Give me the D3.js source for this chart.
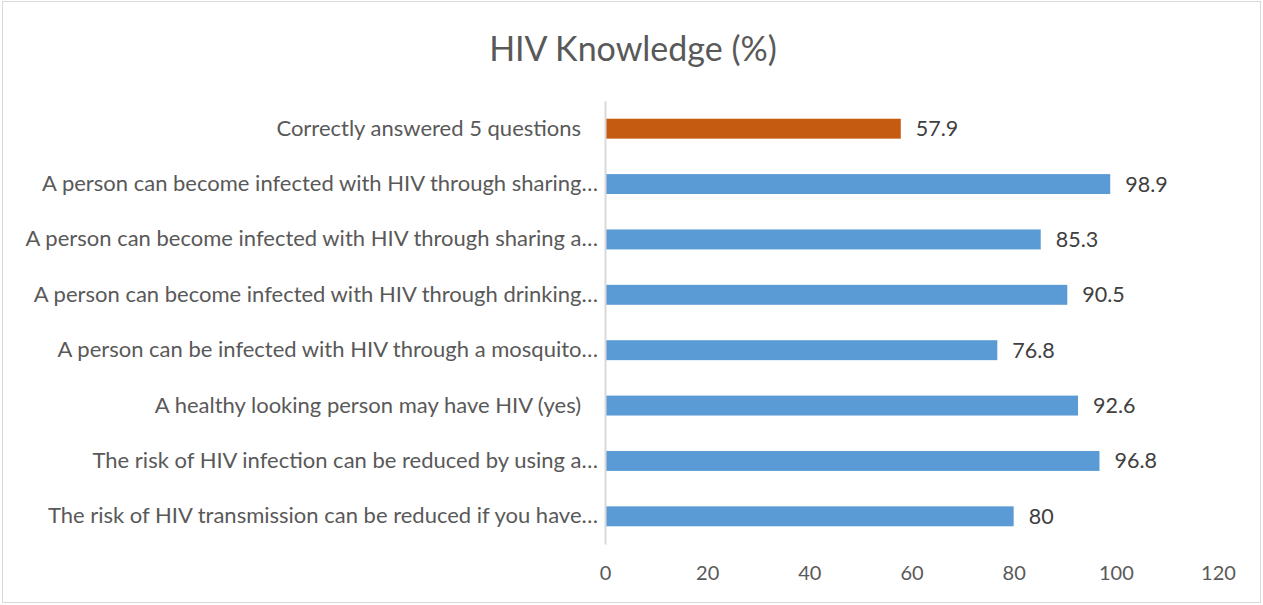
<!DOCTYPE html>
<html><head><meta charset="utf-8">
<script src="https://cdn.jsdelivr.net/npm/d3@7"></script>
<style>body{margin:0;background:#fff;}svg{display:block;font-family:Lato,"Open Sans",sans-serif;}</style>
</head><body>
<svg id="c" width="1263" height="605"></svg>
<script>
const categories = [
  "Correctly answered 5 questions   ",
  "A person can become infected with HIV through sharing…",
  "A person can become infected with HIV through sharing a…",
  "A person can become infected with HIV through drinking…",
  "A person can be infected with HIV through a mosquito…",
  "A healthy looking person may have HIV (yes)   ",
  "The risk of HIV infection can be reduced by using a…",
  "The risk of HIV transmission can be reduced if you have…"
];
const values = [57.9, 98.9, 85.3, 90.5, 76.8, 92.6, 96.8, 80];
const highlight = [true, false, false, false, false, false, false, false];
const xTicks = [0, 20, 40, 60, 80, 100, 120];
const title = "HIV Knowledge (%)";

const svg = d3.select("#c");
svg.append("rect").attr("x",2.5).attr("y",1.5).attr("width",1258).attr("height",601)
  .attr("fill","#fff").attr("stroke","#d9d9d9");

svg.append("text").attr("x",633).attr("y",47).attr("text-anchor","middle")
  .attr("dominant-baseline","central").attr("font-size",34).attr("fill","#595959").text(title);

const x = d3.scaleLinear().domain([0,120]).range([605,1218]);
const y = d3.scaleBand().domain(categories).range([101,544]).paddingInner(0.64).paddingOuter(0.32);

const g = svg.append("g");
g.selectAll("rect.bar").data(values).join("rect").attr("class","bar")
  .attr("x", x(0)).attr("y",(d,i)=>y(categories[i]))
  .attr("width", d=>x(d)-x(0)).attr("height", y.bandwidth())
  .attr("fill",(d,i)=>highlight[i] ? "#c55a11" : "#5b9bd5");

g.selectAll("text.val").data(values).join("text").attr("class","val")
  .attr("x", d=>x(d)+15).attr("y",(d,i)=>y(categories[i])+y.bandwidth()/2)
  .attr("dy","0.35em").attr("font-size",21.5).attr("fill","#404040").text(d=>d);

// y axis
const ya = svg.append("g").attr("transform",`translate(${x(0)},0)`)
  .call(d3.axisLeft(y).tickSize(0).tickPadding(7));
ya.select(".domain").attr("stroke","#d9d9d9").attr("stroke-width",2);
ya.selectAll("text").attr("font-size",22).attr("fill","#595959").attr("font-family","Lato")
  .style("white-space","pre");

// x axis (labels only)
const xa = svg.append("g").attr("transform","translate(0,544)")
  .call(d3.axisBottom(x).tickValues(xTicks).tickSize(0).tickPadding(22));
xa.select(".domain").remove();
xa.selectAll("text").attr("font-size",20).attr("fill","#595959").attr("font-family","Lato");
</script>
</body></html>
